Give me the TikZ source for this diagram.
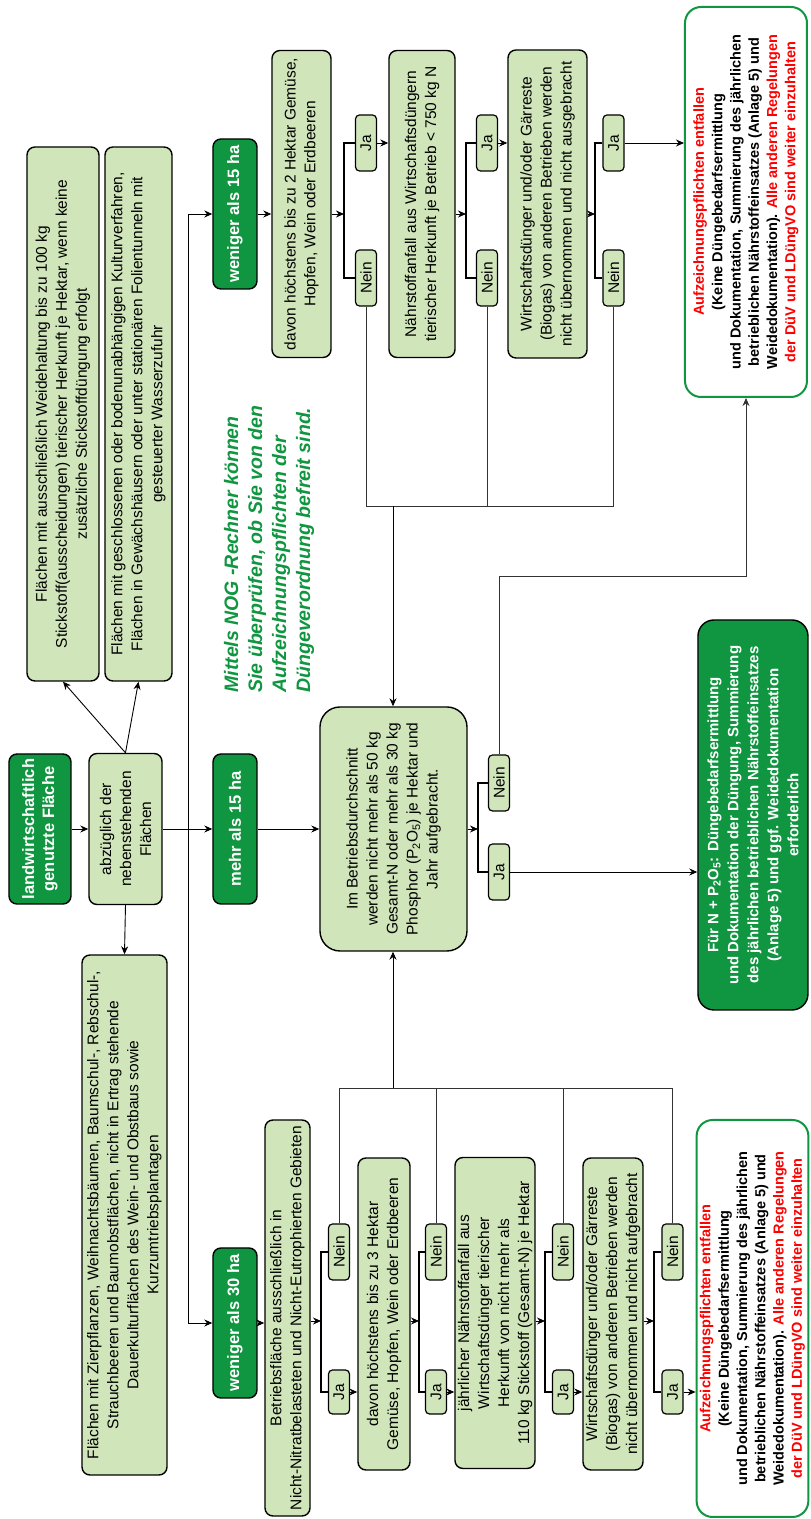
\documentclass[tikz,border=0pt]{standalone}
\usepackage{fontspec}
\setmainfont{Liberation Sans}
\usepackage{tikz}
\usetikzlibrary{arrows.meta}

\definecolor{dgreen}{RGB}{16,150,64}
\definecolor{lgreen}{RGB}{208,230,186}
\definecolor{dred}{RGB}{255,0,0}

\newcommand{\rtext}[1]{\textcolor{dred}{#1}}

\begin{document}
\begin{tikzpicture}[
            x = 1pt, y = 1pt,
            rotate = 90, transform shape, % chart is set on its side
            > = {Stealth[length=8pt, width=7pt]}, % arrow head style
            line width = 0.9pt % line style
        ]

        \tikzstyle{box}=[
            draw = black,
            line width = 1.4pt,
            fill = lgreen,
            rounded corners = 8pt,
            align = center,
            inner sep = 2pt,
            font = \fontsize{15.5}{20}\selectfont
        ]
        \tikzstyle{gbox}=[box, fill = dgreen, text = white,
            font = \fontsize{16.5}{20}\selectfont\bfseries,
            minimum width = 150pt, minimum height = 44pt]
        \tikzstyle{jn}=[box, rounded corners = 4pt, line width = 1.2pt,
            minimum width = 56pt, minimum height = 21pt, inner sep = 0pt]
        \tikzstyle{endbox}=[draw = dgreen, line width = 2pt, fill = white,
            rounded corners = 16pt, align = center,
            font = \fontsize{14.5}{18.3}\selectfont\bfseries,
            minimum width = 390pt]
        \tikzstyle{bracket}=[line width = 1.8pt]
        \tikzstyle{thin}=[line width = 0.8pt, draw = black!80]

        \useasboundingbox (0,0) rectangle (1519,811);

        % start and excluded areas
        \node[gbox, minimum height = 62pt] (land) at (690,771) {landwirtschaftlich\\ genutzte Fläche};
        \node[box, minimum width = 151pt, minimum height = 73pt] (abz) at (690,685.5) {abzüglich der\\ nebenstehenden\\ Flächen};
        \node[box, minimum width = 534pt, minimum height = 72pt] (a1) at (1105,748) {Flächen mit ausschließlich Weidehaltung bis zu 100 kg\\ Stickstoff(ausscheidungen) tierischer Herkunft je Hektar, wenn keine\\ zusätzliche Stickstoffdüngung erfolgt};
        \node[box, minimum width = 534pt, minimum height = 67pt] (a2) at (1105,672.5) {Flächen mit geschlossenen oder bodenunabhängigen Kulturverfahren,\\ Flächen in Gewächshäusern oder unter stationären Folientunneln mit\\ gesteuerter Wasserzufuhr};
        \node[box, minimum width = 520pt, minimum height = 85pt] (zier) at (304,686.5) {Flächen mit Zierpflanzen, Weihnachtsbäumen, Baumschul-, Rebschul-,\\ Strauchbeeren und Baumobstflächen, nicht in Ertrag stehende\\ Dauerkulturflächen des Wein- und Obstbaus sowie\\ Kurzumtriebsplantagen};

        % size classes
        \node[gbox] (w15) at (1305,576) {weniger als 15 ha};
        \node[gbox] (m15) at (690,576) {mehr als 15 ha};
        \node[gbox] (w30) at (196,576) {weniger als 30 ha};
        \coordinate (split) at (690,623);

        \node[anchor = west, align = left, inner sep = 0pt, text = dgreen,
            font = \fontsize{19.5}{24}\selectfont\bfseries\itshape] (note) at (826,542)
            {Mittels NOG -Rechner können\\ Sie überprüfen, ob Sie von den\\ Aufzeichnungspflichten der\\ Düngeverordnung befreit sind.};

        % mehr als 15 ha
        \node[box, rounded corners = 20pt, minimum width = 244pt, minimum height = 147pt] (bd) at (690,417.5) {Im Betriebsdurchschnitt\\ werden nicht mehr als 50 kg\\ Gesamt-N oder mehr als 30 kg\\ Phosphor (P\textsubscript{2}O\textsubscript{5}) je Hektar und\\ Jahr aufgebracht.};
        \node[jn] (jabd) at (647,312) {Ja};
        \node[jn] (neinbd) at (736,312) {Nein};
        \coordinate (brbd) at (690,333);
        \node[gbox, rounded corners = 16pt, minimum width = 390pt, minimum height = 110pt,
            font = \fontsize{15}{20}\selectfont\bfseries] (d) at (704,58) {Für N + P\textsubscript{2}O\textsubscript{5}: Düngebedarfsermittlung\\ und Dokumentation der Düngung, Summierung\\ des jährlichen betrieblichen Nährstoffeinsatzes\\ (Anlage 5) und ggf. Weidedokumentation\\ erforderlich};

        % weniger als 15 ha
        \node[box, minimum width = 307pt, minimum height = 59pt] (t1) at (1315,509.5) {davon höchstens bis zu 2 Hektar Gemüse,\\ Hopfen, Wein oder Erdbeeren};
        \node[jn] (ja1) at (1376,445) {Ja};
        \node[jn] (nein1) at (1241,445) {Nein};
        \node[box, minimum width = 307pt, minimum height = 66pt] (t2) at (1315,389) {Nährstoffanfall aus Wirtschaftsdüngern\\ tierischer Herkunft je Betrieb < 750 kg N};
        \node[jn] (ja2) at (1376,324) {Ja};
        \node[jn] (nein2) at (1241,324) {Nein};
        \node[box, minimum width = 308pt, minimum height = 79pt] (t3) at (1315,263.5) {Wirtschaftsdünger und/oder Gärreste\\ (Biogas) von anderen Betrieben werden\\ nicht übernommen und nicht ausgebracht};
        \node[jn] (ja3) at (1376,197.5) {Ja};
        \node[jn] (nein3) at (1241,197.5) {Nein};
        \node[endbox, minimum height = 122pt] (r1) at (1317,65) {\rtext{Aufzeichnungspflichten entfallen}\\ (Keine Düngebedarfsermittlung\\ und Dokumentation, Summierung des jährlichen\\ betrieblichen Nährstoffeinsatzes (Anlage 5) und\\ Weidedokumentation). \rtext{Alle anderen Regelungen}\\ \rtext{der DüV und LDüngVO sind weiter einzuhalten}};
        \coordinate (br1) at (1305,467);
        \coordinate (br2) at (1305,345);
        \coordinate (br3) at (1305,216);
        \coordinate (nt) at (1013,418);
        \coordinate (kink) at (943,65);

        % weniger als 30 ha
        \node[box, minimum width = 396pt, minimum height = 45pt] (b0) at (201,523.5) {Betriebsfläche ausschließlich in\\ Nicht-Nitratbelasteten und Nicht-Eutrophierten Gebieten};
        \node[jn, minimum width = 44pt] (ja1b) at (127,472) {Ja};
        \node[jn] (nein1b) at (267,472) {Nein};
        \node[box, minimum width = 312pt, minimum height = 52pt] (b1) at (205,427) {davon höchstens bis zu 3 Hektar\\ Gemüse, Hopfen, Wein oder Erdbeeren};
        \node[jn, minimum width = 44pt] (ja2b) at (127,375) {Ja};
        \node[jn] (nein2b) at (267,375) {Nein};
        \node[box, minimum width = 311pt, minimum height = 80pt] (b2) at (206,316) {jährlicher Nährstoffanfall aus\\ Wirtschaftsdünger tierischer\\ Herkunft von nicht mehr als\\ 110 kg Stickstoff (Gesamt-N) je Hektar};
        \node[jn, minimum width = 44pt] (ja3b) at (127,248) {Ja};
        \node[jn] (nein3b) at (267,248) {Nein};
        \node[box, minimum width = 312pt, minimum height = 60pt] (b3) at (205,198) {Wirtschaftsdünger und/oder Gärreste\\ (Biogas) von anderen Betrieben werden\\ nicht übernommen und nicht aufgebracht};
        \node[jn, minimum width = 44pt] (ja4b) at (127,138.5) {Ja};
        \node[jn] (nein4b) at (267,138.5) {Nein};
        \node[endbox, minimum width = 397pt, minimum height = 111pt] (r2) at (200.5,58.5) {\rtext{Aufzeichnungspflichten entfallen}\\ (Keine Düngebedarfsermittlung\\ und Dokumentation, Summierung des jährlichen\\ betrieblichen Nährstoffeinsatzes (Anlage 5) und\\ Weidedokumentation). \rtext{Alle anderen Regelungen}\\ \rtext{der DüV und LDüngVO sind weiter einzuhalten}};
        \coordinate (br1b) at (198,490);
        \coordinate (br2b) at (198,392);
        \coordinate (br3b) at (198,266);
        \coordinate (br4b) at (198,157);
        \coordinate (nb) at (431,418);

        % connectors
        \draw[->] (land.south) -- (abz.north);
        \draw[->] (abz.east) -- (a1.west);
        \draw[->] (abz.east) -- (a2.west);
        \draw[->] (abz.west) -- (zier.east);
        \draw[->] (abz.south) -- (m15.north);
        \draw[->] (split) -| (w15.north);
        \draw[->] (split) -| (w30.north);

        \draw[->] (m15.south) -- (bd.north);
        \draw[->] (bd.south) -- (brbd);
        \draw[bracket] (jabd.north) |- (brbd) -| (neinbd.north);
        \draw[->] (jabd.south) -- (jabd.south |- d.north);
        \draw[thin, ->] (neinbd.east) -| (kink) -- (r1.west);

        \draw[->] (w15.south) -- (w15.south |- t1.north);
        \draw[->] (t1.south -| br1) -- (br1);
        \draw[bracket] (ja1.north) |- (br1) -| (nein1.north);
        \draw[->] (ja1.south) -- (ja1.south |- t2.north);
        \draw[->] (t2.south -| br2) -- (br2);
        \draw[bracket] (ja2.north) |- (br2) -| (nein2.north);
        \draw[->] (ja2.south) -- (ja2.south |- t3.north);
        \draw[->] (t3.south -| br3) -- (br3);
        \draw[bracket] (ja3.north) |- (br3) -| (nein3.north);
        \draw[->] (ja3.south) -- (ja3.south |- r1.north);
        \draw[thin] (nein1.west) -| (nt);
        \draw[thin] (nein2.west) -| (nt);
        \draw[thin] (nein3.west) -| (nt);
        \draw[->] (nt) -- (bd.east |- nt);

        \draw[->] (w30.south) -- (w30.south |- b0.north);
        \draw[->] (b0.south -| br1b) -- (br1b);
        \draw[bracket] (ja1b.north) |- (br1b) -| (nein1b.north);
        \draw[->] (ja1b.south) -- (ja1b.south |- b1.north);
        \draw[->] (b1.south -| br2b) -- (br2b);
        \draw[bracket] (ja2b.north) |- (br2b) -| (nein2b.north);
        \draw[->] (ja2b.south) -- (ja2b.south |- b2.north);
        \draw[->] (b2.south -| br3b) -- (br3b);
        \draw[bracket] (ja3b.north) |- (br3b) -| (nein3b.north);
        \draw[->] (ja3b.south) -- (ja3b.south |- b3.north);
        \draw[->] (b3.south -| br4b) -- (br4b);
        \draw[bracket] (ja4b.north) |- (br4b) -| (nein4b.north);
        \draw[->] (ja4b.south) -- (ja4b.south |- r2.north);
        \draw[thin] (nein1b.east) -| (nb);
        \draw[thin] (nein2b.east) -| (nb);
        \draw[thin] (nein3b.east) -| (nb);
        \draw[thin] (nein4b.east) -| (nb);
        \draw[->] (nb) -- (bd.west |- nb);

\end{tikzpicture}
\end{document}
